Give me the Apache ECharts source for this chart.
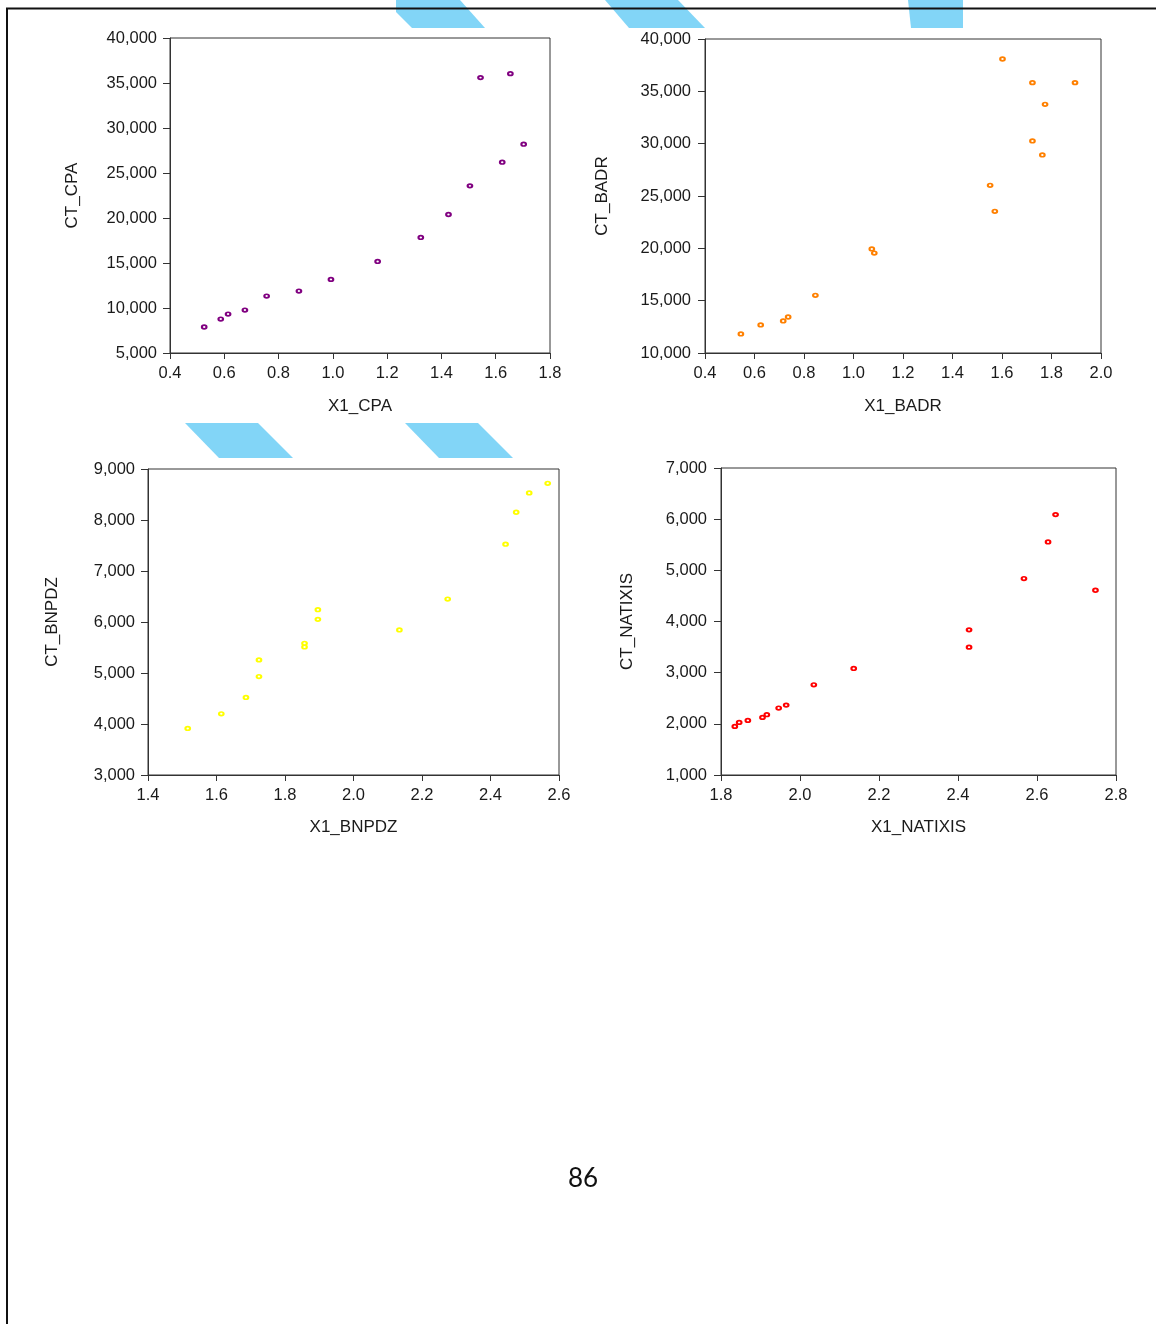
<!DOCTYPE html>
<html>
<head>
<meta charset="utf-8">
<script src="https://cdn.jsdelivr.net/npm/echarts@6/dist/echarts.min.js"></script>
<style>
html,body{margin:0;padding:0;background:#fff;}
#c{width:1156px;height:1324px;}
</style>
</head>
<body>
<div id="c"></div>
<script>
// ---- data ----
const cpaX = [0.526,0.587,0.614,0.676,0.756,0.875,0.993,1.165,1.324,1.426,1.505,1.544,1.624,1.654,1.703];
const cpaY = [7890,8770,9330,9770,11330,11880,13180,15170,17840,20390,23570,35600,26200,36040,28200];

const badrX = [0.545,0.625,0.716,0.736,0.846,1.074,1.084,1.552,1.571,1.602,1.723,1.723,1.774,1.763,1.895];
const badrY = [11820,12680,13060,13440,15510,19940,19550,26020,23540,38090,35830,30260,33760,28920,35830];

const bnpX = [1.516,1.614,1.686,1.724,1.724,1.857,1.857,1.896,1.896,2.134,2.275,2.444,2.475,2.513,2.567];
const bnpY = [3913,4200,4520,4930,5257,5511,5583,6052,6241,5844,6450,7526,8152,8531,8720];

const natX = [1.835,1.846,1.868,1.905,1.916,1.946,1.965,2.035,2.136,2.428,2.428,2.567,2.628,2.647,2.748];
const natY = [1950,2028,2067,2126,2178,2308,2366,2763,3082,3837,3499,4839,5555,6089,4611];

const xNames = ['X1_CPA','X1_BADR','X1_BNPDZ','X1_NATIXIS'];
const yNames = ['CT_CPA','CT_BADR','CT_BNPDZ','CT_NATIXIS'];
const xRanges = [[0.4,1.8,0.2],[0.4,2.0,0.2],[1.4,2.6,0.2],[1.8,2.8,0.2]];
const yRanges = [[5000,40000,5000],[10000,40000,5000],[3000,9000,1000],[1000,7000,1000]];
const colors = ['#800080','#ff8000','#ffff00','#ff0000'];
const pageNumber = '86';

// ---- layout ----
const grids = [
  {left:170, top:38, width:380, height:315},
  {left:705, top:39, width:396, height:314},
  {left:148, top:469, width:411, height:306},
  {left:721, top:468, width:395, height:307}
];
const yNameGaps = [89, 94, 87, 85];
const xNameGaps = [45, 45, 44, 44];
const yLabelMargins = [13, 14, 13, 14];
const FONT = 'Liberation Sans, Arial, sans-serif';
const TXT = '#1a1a1a';
const LINE = '#333';

const allX = [cpaX, badrX, bnpX, natX];
const allY = [cpaY, badrY, bnpY, natY];

function fmtThousands(v){ return Math.round(v).toString().replace(/\B(?=(\d{3})+(?!\d))/g, ','); }

const option = {
  backgroundColor:'#fff',
  animation:false,
  grid: grids.map(g => Object.assign({show:true, borderColor:LINE, borderWidth:1, backgroundColor:'transparent', containLabel:false}, g)),
  xAxis: xRanges.map((r,i) => ({
    type:'value', gridIndex:i, min:r[0], max:r[1], interval:r[2],
    name:xNames[i], nameLocation:'middle', nameGap:xNameGaps[i],
    nameTextStyle:{fontFamily:FONT, fontSize:17, color:TXT},
    axisLine:{show:true, onZero:false, lineStyle:{color:LINE, width:1}},
    axisTick:{show:true, inside:false, length:6, lineStyle:{color:LINE}},
    axisLabel:{show:true, margin:12, fontFamily:FONT, fontSize:16.5, color:TXT, formatter:v=>v.toFixed(1)},
    splitLine:{show:false}
  })),
  yAxis: yRanges.map((r,i) => ({
    type:'value', gridIndex:i, min:r[0], max:r[1], interval:r[2],
    name:yNames[i], nameLocation:'middle', nameGap:yNameGaps[i],
    nameTextStyle:{fontFamily:FONT, fontSize:17, color:TXT},
    axisLine:{show:true, onZero:false, lineStyle:{color:LINE, width:1}},
    axisTick:{show:true, inside:false, length:7, lineStyle:{color:LINE}},
    axisLabel:{show:true, margin:yLabelMargins[i], fontFamily:FONT, fontSize:16.5, color:TXT, formatter:fmtThousands},
    splitLine:{show:false}
  })),
  series: allX.map((xs,i) => ({
    type:'scatter', xAxisIndex:i, yAxisIndex:i,
    symbol:'circle', symbolSize:[4.6,3.6],
    itemStyle:{color:'#fff', borderColor:colors[i], borderWidth:1.9, opacity:1},
    emphasis:{disabled:true},
    data: xs.map((x,k) => [x, allY[i][k]])
  })),
  graphic: [
    {type:'polygon', z:0, shape:{points:[[396,0],[460,0],[485,28],[412,28],[396,12]]}, style:{fill:'#82d5f7'}},
    {type:'polygon', z:0, shape:{points:[[605,0],[678,0],[705,28],[629,28]]}, style:{fill:'#82d5f7'}},
    {type:'polygon', z:0, shape:{points:[[908,0],[963,0],[963,28],[911,28]]}, style:{fill:'#82d5f7'}},
    {type:'polygon', z:0, shape:{points:[[185,423],[258,423],[293,458],[219,458]]}, style:{fill:'#82d5f7'}},
    {type:'polygon', z:0, shape:{points:[[405,423],[478,423],[513,458],[439,458]]}, style:{fill:'#82d5f7'}},
    {type:'line', z:10, shape:{x1:6, y1:8.5, x2:1156, y2:8.5}, style:{stroke:'#111', lineWidth:2}},
    {type:'line', z:10, shape:{x1:7, y1:8, x2:7, y2:1324}, style:{stroke:'#111', lineWidth:2}},
    {type:'text', z:10, x:583, y:1179, style:{text:pageNumber, font:'26px Lato, "Open Sans", sans-serif', fill:'#111', textAlign:'center', textVerticalAlign:'middle'}}
  ]
};

const chart = echarts.init(document.getElementById('c'), null, {renderer:'canvas'});
chart.setOption(option);
</script>
</body>
</html>
